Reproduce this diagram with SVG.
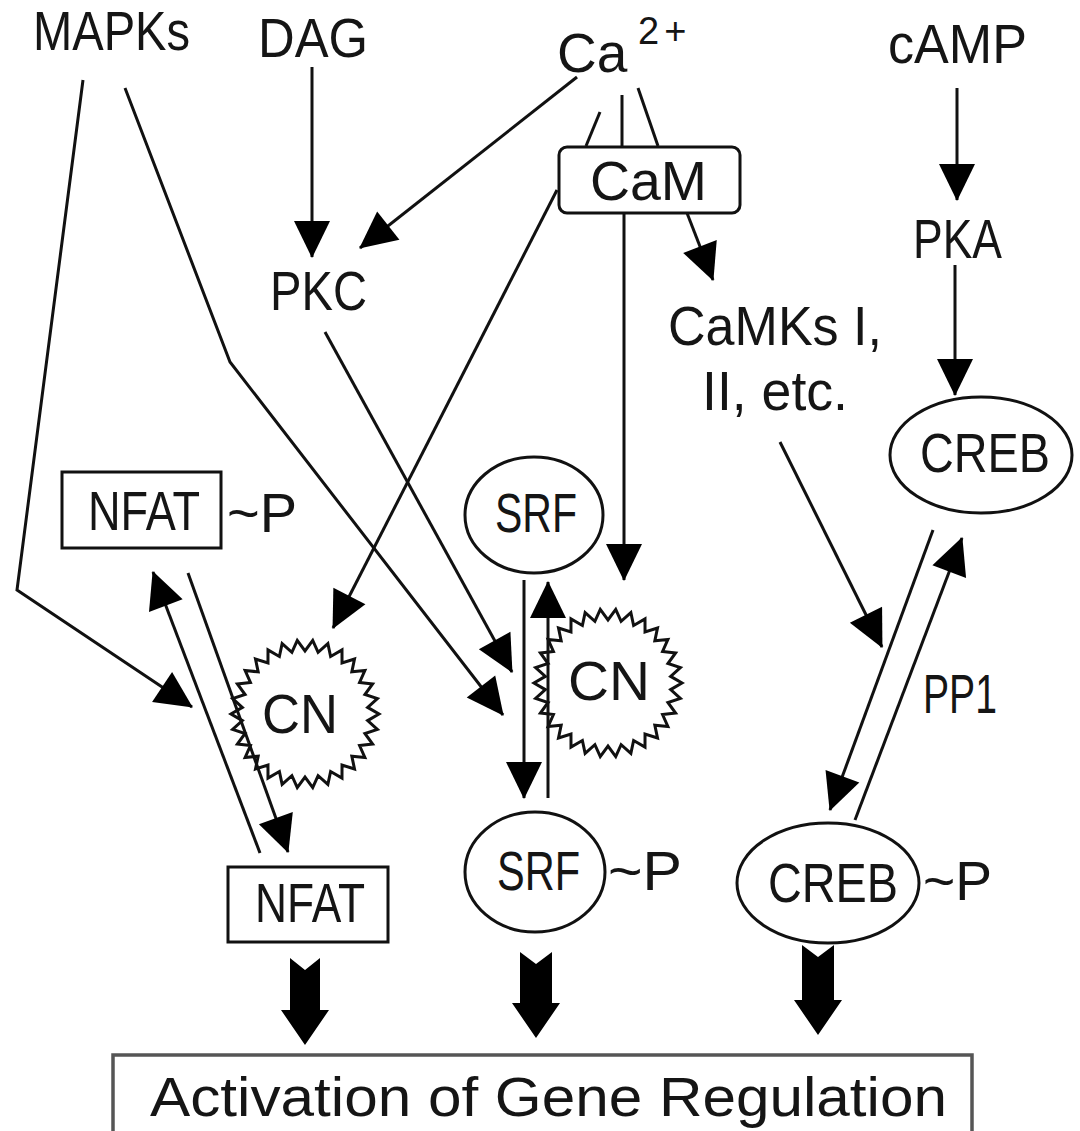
<svg xmlns="http://www.w3.org/2000/svg" xmlns:xlink="http://www.w3.org/1999/xlink" width="1080" height="1131" viewBox="0 0 1080 1131">
<style>
text{font-family:"Liberation Sans",Arial,sans-serif;fill:#151515;font-size:55px;}
.sup{font-size:38px;letter-spacing:5px;}
.shape{fill:none;stroke:#111;stroke-width:3;}
.ln{fill:none;stroke:#111;stroke-width:3;}
.arr{marker-end:url(#ah);}
.fat{fill:#000;stroke:none;}
</style>
<defs>
<marker id="ah" markerUnits="userSpaceOnUse" markerWidth="40" markerHeight="38" refX="36" refY="18" orient="auto" overflow="visible">
<path d="M0,0 L37,18 L0,36 z" fill="#000"/>
</marker>
<polygon id="star" class="shape" stroke-width="2.6" points="74,0 62.65,6.59 72.38,15.38 59.92,19.47 67.6,30.1 54.56,31.5 59.87,43.5 46.82,42.15 49.51,54.99 37.03,50.97 37,64.09 25.62,57.55 22.87,70.38 13.1,61.62 7.73,73.59 0,63 -7.73,73.59 -13.1,61.62 -22.87,70.38 -25.62,57.55 -37,64.09 -37.03,50.97 -49.51,54.99 -46.82,42.15 -59.87,43.5 -54.56,31.5 -67.6,30.1 -59.92,19.47 -72.38,15.38 -62.65,6.59 -74,0 -62.65,-6.59 -72.38,-15.38 -59.92,-19.47 -67.6,-30.1 -54.56,-31.5 -59.87,-43.5 -46.82,-42.15 -49.51,-54.99 -37.03,-50.97 -37,-64.09 -25.62,-57.55 -22.87,-70.38 -13.1,-61.62 -7.73,-73.59 0,-63 7.73,-73.59 13.1,-61.62 22.87,-70.38 25.62,-57.55 37,-64.09 37.03,-50.97 49.51,-54.99 46.82,-42.15 59.87,-43.5 54.56,-31.5 67.6,-30.1 59.92,-19.47 72.38,-15.38 62.65,-6.59"/>
</defs>
<rect width="1080" height="1131" fill="#fff"/>

<g id="MAPKs"><text x="33" y="50" font-size="53" textLength="157" lengthAdjust="spacingAndGlyphs">MAPKs</text></g>
<g id="DAG"><text x="258" y="57" font-size="54" textLength="110" lengthAdjust="spacingAndGlyphs">DAG</text></g>
<g id="Ca"><text x="557" y="72" font-size="56">Ca<tspan class="sup" x="638" y="44">2+</tspan></text></g>
<g id="cAMP"><text x="888" y="63" font-size="57" textLength="139" lengthAdjust="spacingAndGlyphs">cAMP</text></g>
<g id="CaM"><rect class="shape" x="559" y="147" width="181" height="66" rx="8"/><text x="590" y="200" font-size="55" textLength="117" lengthAdjust="spacingAndGlyphs">CaM</text></g>
<g id="PKA"><text x="913" y="258" font-size="55" textLength="89" lengthAdjust="spacingAndGlyphs">PKA</text></g>
<g id="PKC"><text x="270" y="310" font-size="54" textLength="97" lengthAdjust="spacingAndGlyphs">PKC</text></g>
<g id="CaMKs"><text x="668" y="345" font-size="55" textLength="214" lengthAdjust="spacingAndGlyphs">CaMKs I,</text><text x="702" y="410" font-size="55" textLength="146" lengthAdjust="spacingAndGlyphs">II, etc.</text></g>
<g id="CREB-top"><ellipse class="shape" cx="981" cy="455" rx="91" ry="58"/><text x="920" y="472" font-size="49" textLength="130" lengthAdjust="spacingAndGlyphs">CREB</text></g>
<g id="NFAT-P"><rect class="shape" stroke-width="3.5" x="62" y="472" width="159" height="76"/><text x="88" y="530" font-size="55" textLength="112" lengthAdjust="spacingAndGlyphs">NFAT</text><text x="227" y="532" font-size="55" textLength="70" lengthAdjust="spacingAndGlyphs">~P</text></g>
<g id="SRF-top"><ellipse class="shape" cx="534" cy="515" rx="69" ry="58"/><text x="495" y="532" font-size="54" textLength="82" lengthAdjust="spacingAndGlyphs">SRF</text></g>
<g id="CN-left"><use xlink:href="#star" href="#star" transform="translate(305,714)"/><text x="262" y="733" font-size="55" textLength="76" lengthAdjust="spacingAndGlyphs">CN</text></g>
<g id="CN-right"><use xlink:href="#star" href="#star" transform="translate(608,683)"/><text x="568" y="700" font-size="55" textLength="82" lengthAdjust="spacingAndGlyphs">CN</text></g>
<g id="PP1"><text x="923" y="713" font-size="55" textLength="74" lengthAdjust="spacingAndGlyphs">PP1</text></g>
<g id="NFAT"><rect class="shape" stroke-width="3.5" x="228" y="867" width="160" height="75"/><text x="255" y="922" font-size="54" textLength="110" lengthAdjust="spacingAndGlyphs">NFAT</text></g>
<g id="SRF-P"><ellipse class="shape" cx="535" cy="872" rx="70" ry="60"/><text x="497" y="890" font-size="56" textLength="83" lengthAdjust="spacingAndGlyphs">SRF</text><text x="608" y="890" font-size="55" textLength="74" lengthAdjust="spacingAndGlyphs">~P</text></g>
<g id="CREB-P"><ellipse class="shape" cx="828" cy="883" rx="91" ry="60"/><text x="768" y="902" font-size="56" textLength="130" lengthAdjust="spacingAndGlyphs">CREB</text><text x="923" y="900" font-size="55" textLength="69" lengthAdjust="spacingAndGlyphs">~P</text></g>
<g id="Gene"><rect x="113" y="1055" width="859" height="110" fill="none" stroke="#555" stroke-width="3.5"/><text x="150" y="1116" font-size="62" textLength="797" lengthAdjust="spacingAndGlyphs">Activation of Gene Regulation</text></g>

<g id="connectors">
<polyline class="ln arr" points="83,80 17,590 192,707"/>
<polyline class="ln arr" points="125,88 230,362 503,715"/>
<line class="ln arr" x1="312" y1="67" x2="312" y2="257"/>
<line class="ln arr" x1="577" y1="77" x2="360" y2="248"/>
<line class="ln" x1="600" y1="112" x2="586" y2="146"/>
<line class="ln" x1="622" y1="95" x2="622" y2="147"/>
<line class="ln" x1="638" y1="88" x2="658" y2="146"/>
<line class="ln arr" x1="557" y1="190" x2="333" y2="628"/>
<line class="ln arr" x1="624" y1="213" x2="624" y2="580"/>
<line class="ln arr" x1="687" y1="213" x2="713" y2="280"/>
<line class="ln arr" x1="325" y1="332" x2="512" y2="672"/>
<line class="ln arr" x1="957" y1="88" x2="957" y2="200"/>
<line class="ln arr" x1="955" y1="265" x2="955" y2="395"/>
<line class="ln arr" x1="780" y1="442" x2="882" y2="647"/>
<line class="ln arr" x1="933" y1="530" x2="830" y2="810"/>
<line class="ln arr" x1="855" y1="820" x2="962" y2="538"/>
<line class="ln arr" x1="188" y1="573" x2="288" y2="852"/>
<line class="ln arr" x1="260" y1="853" x2="153" y2="572"/>
<line class="ln arr" x1="524" y1="580" x2="524" y2="798"/>
<line class="ln arr" x1="548" y1="798" x2="548" y2="582"/>
<polygon class="fat" points="290,958 305,970 320,958 320,1010 329,1010 305,1045 281,1010 290,1010"/>
<polygon class="fat" points="520,952 536,964 552,952 552,1003 560,1003 536,1038 512,1003 520,1003"/>
<polygon class="fat" points="802,945 818,957 834,945 834,1000 842,1000 818,1035 794,1000 802,1000"/>
</g>
</svg>
